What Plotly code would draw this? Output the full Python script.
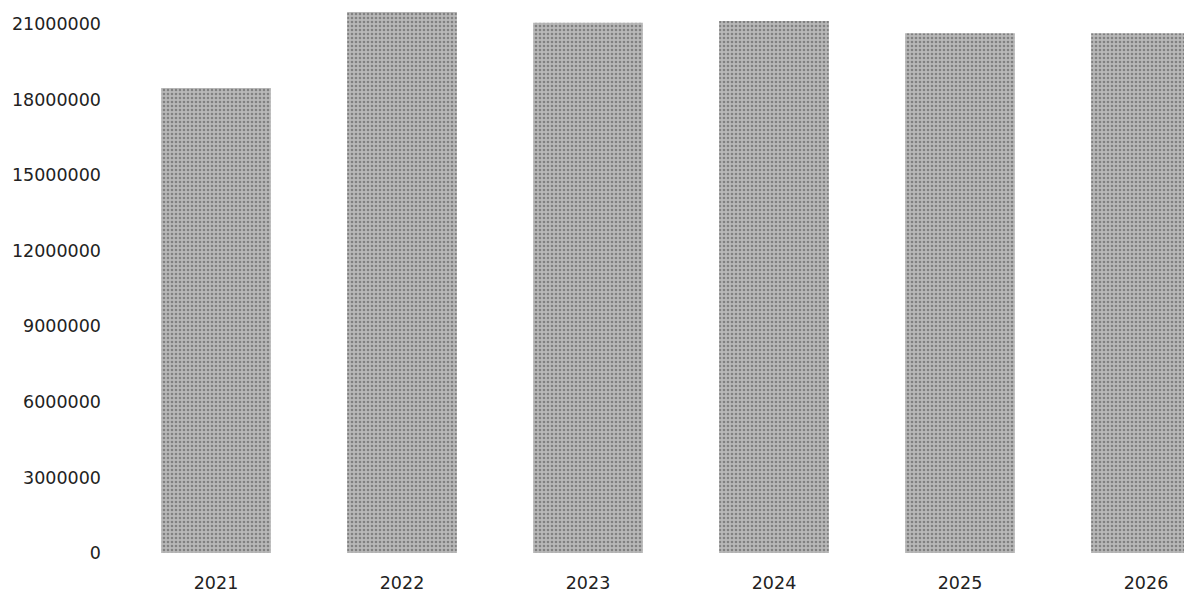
import plotly.graph_objects as go

years = ["2021", "2022", "2023", "2024", "2025", "2026"]
values = [18460000, 21480000, 21050000, 21120000, 20640000, 20640000]
y_ticks = [0, 3000000, 6000000, 9000000, 12000000, 15000000, 18000000, 21000000]

fig = go.Figure(
    go.Bar(
        x=years,
        y=values,
        width=0.59,
        marker=dict(
            color="#b4b4b4",
            line=dict(width=0),
            pattern=dict(shape=".", fgcolor="#4a4a4a", bgcolor="#b8b8b8", size=4, solidity=0.35),
        ),
    )
)

fig.update_layout(
    width=1184,
    height=586,
    margin=dict(l=102, r=1, t=0, b=41),
    paper_bgcolor="white",
    plot_bgcolor="white",
    showlegend=False,
    font=dict(family="DejaVu Sans", size=17.5, color="#222222"),
)
fig.update_xaxes(
    type="category",
    range=[-0.5699, 5.242],
    showgrid=False,
    showline=False,
    zeroline=False,
    ticks="",
    ticklabelstandoff=17,
)
fig.update_yaxes(
    range=[0, 21640000],
    tickvals=y_ticks,
    ticktext=[str(v) for v in y_ticks],
    showgrid=False,
    showline=False,
    zeroline=False,
    ticks="",
    ticklabelstandoff=8,
)

fig.write_html("out.html")
